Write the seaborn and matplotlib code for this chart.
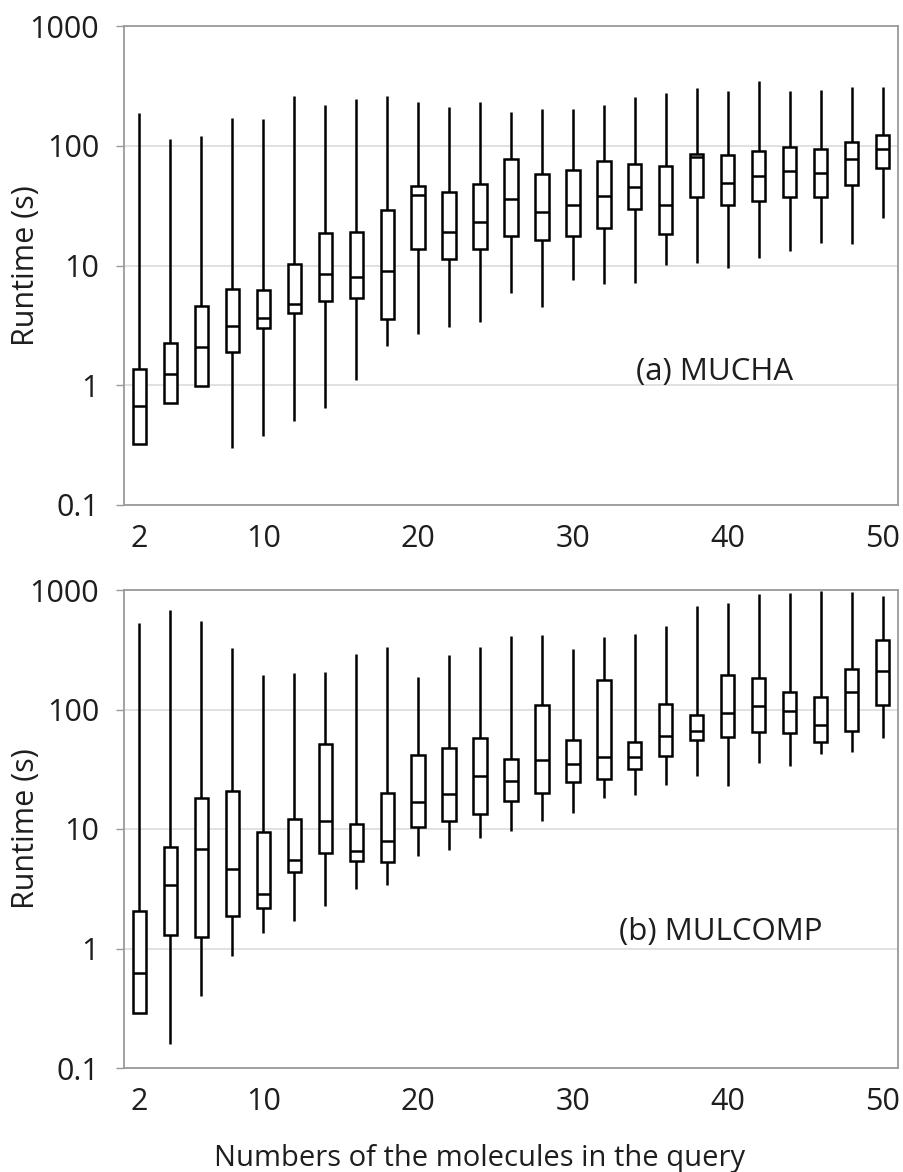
import numpy as np
import pandas as pd
import matplotlib
matplotlib.use("Agg")
import matplotlib.pyplot as plt
import seaborn as sns

# ---------------- data ----------------
n_molecules = [2, 4, 6, 8, 10, 12, 14, 16, 18, 20, 22, 24, 26,
               28, 30, 32, 34, 36, 38, 40, 42, 44, 46, 48, 50]

# (a) MUCHA
mucha_min = [0.325, 0.71, 0.99, 0.30, 0.38, 0.50, 0.64, 1.11, 2.14, 2.69, 3.09, 3.37, 5.89,
             4.54, 7.52, 7.0, 7.09, 10.1, 10.5, 9.6, 11.6, 13.2, 15.4, 15.2, 25.0]
mucha_q1 = [0.325, 0.71, 0.99, 1.91, 3.01, 4.03, 5.08, 5.36, 3.55, 13.7, 11.3, 13.7, 17.8,
            16.3, 17.8, 20.5, 29.7, 18.2, 37.5, 31.8, 34.4, 37.2, 37.0, 46.7, 65.6]
mucha_med = [0.67, 1.23, 2.09, 3.15, 3.67, 4.79, 8.43, 7.98, 8.94, 38.7, 18.9, 22.9, 36.1,
             28.2, 32.0, 37.8, 45.2, 32.2, 80.0, 49.2, 55.5, 62.1, 59.7, 77.8, 93.1]
mucha_q3 = [1.37, 2.26, 4.6, 6.4, 6.2, 10.2, 18.8, 19.1, 29.1, 46.4, 41.1, 47.7, 77.3,
            58.5, 62.5, 73.9, 70.0, 67.8, 85.5, 83.7, 91.2, 97.7, 93.8, 108, 123]
mucha_max = [187, 113.5, 120, 169, 167, 262, 221, 244, 262, 233, 209, 231, 193,
             202, 202, 217, 254, 277, 301, 288, 347, 284, 292, 312, 312]

# (b) MULCOMP
mulcomp_min = [0.286, 0.159, 0.40, 0.86, 1.34, 1.71, 2.27, 3.17, 3.42, 5.94, 6.66, 8.39, 9.66,
               11.6, 13.7, 18.1, 19.4, 23.5, 27.6, 23.1, 35.5, 33.5, 42.4, 44.1, 57.7]
mulcomp_q1 = [0.286, 1.29, 1.24, 1.86, 2.20, 4.36, 6.29, 5.36, 5.26, 10.3, 11.7, 13.3, 17.0,
              20.2, 24.5, 26.4, 31.8, 40.6, 55.2, 58.9, 65.2, 64.0, 53.4, 65.6, 110]
mulcomp_med = [0.618, 3.40, 6.79, 4.59, 2.84, 5.53, 11.6, 6.58, 7.92, 16.9, 19.7, 27.6, 25.2,
               37.6, 35.0, 39.8, 39.8, 60.0, 65.6, 93.3, 106, 96.4, 74.6, 141, 209]
mulcomp_q3 = [2.05, 7.01, 18.3, 20.6, 9.42, 12.2, 51.4, 11.0, 19.9, 41.4, 47.3, 57.7, 38.5,
              109, 55.2, 177, 53.4, 112, 89.8, 195, 182, 141, 127, 219, 380]
mulcomp_max = [526, 676, 550, 330, 194, 203, 205, 290, 334, 188, 288, 332, 412,
               421, 319, 405, 431, 503, 730, 783, 930, 937, 973, 961, 890]

y_ticks = [0.1, 1, 10, 100, 1000]
y_tick_labels = ["0.1", "1", "10", "100", "1000"]
x_ticks = [2, 10, 20, 30, 40, 50]
x_tick_labels = ["2", "10", "20", "30", "40", "50"]


def long_frame(mins, q1s, meds, q3s, maxs):
    rows = []
    for n, a, b, c, d, e in zip(n_molecules, mins, q1s, meds, q3s, maxs):
        for v in (a, b, c, d, e):
            rows.append({"n": n, "runtime": v})
    return pd.DataFrame(rows)


df_a = long_frame(mucha_min, mucha_q1, mucha_med, mucha_q3, mucha_max)
df_b = long_frame(mulcomp_min, mulcomp_q1, mulcomp_med, mulcomp_q3, mulcomp_max)

# ---------------- style ----------------
sns.set_theme(style="white")
plt.rcParams["font.family"] = ["Open Sans", "DejaVu Sans"]

W, H = 904, 1172
fig = plt.figure(figsize=(W / 100, H / 100), dpi=100)

def frac_axes(left, top, right, bottom):
    return fig.add_axes([left / W, 1 - bottom / H, (right - left) / W, (bottom - top) / H])

ax1 = frac_axes(124, 26, 898, 505)
ax2 = frac_axes(124, 590, 898, 1068)

spine_col = "#9a9a9a"
grid_col = "#dcdcdc"
text_col = "#1e1e1e"

for ax, df, label, lx, ly in ((ax1, df_a, "(a) MUCHA", 0.763, 0.278),
                              (ax2, df_b, "(b) MULCOMP", 0.771, 0.285)):
    sns.boxplot(data=df, x="n", y="runtime", native_scale=True, log_scale=(False, True),
                whis=(0, 100), width=0.43, color="white", linecolor="black",
                linewidth=1.8, showcaps=False, fliersize=0, ax=ax)
    ax.set_ylim(0.1, 1000)
    ax.set_xlim(1.0, 51.0)
    ax.set_yticks(y_ticks)
    ax.set_yticklabels(y_tick_labels)
    ax.minorticks_off()
    ax.set_xticks(x_ticks)
    ax.set_xticklabels(x_tick_labels)
    ax.yaxis.grid(True, color=grid_col, linewidth=1.2)
    ax.xaxis.grid(False)
    ax.set_axisbelow(True)
    for s in ax.spines.values():
        s.set_color(spine_col)
        s.set_linewidth(1.3)
    ax.tick_params(axis="y", which="major", length=6, width=1.0, color=spine_col,
                   pad=12, labelsize=22, labelcolor=text_col, left=True)
    ax.tick_params(axis="x", which="major", length=0, pad=14, labelsize=22,
                   labelcolor=text_col)
    ax.set_xlabel("")
    ax.set_ylabel("Runtime (s)", fontsize=22, color=text_col)
    ax.yaxis.set_label_coords(-0.127, 0.5)
    ax.yaxis.label.set_verticalalignment("center")
    ax.text(lx, ly, label, transform=ax.transAxes, ha="center", va="center",
            fontsize=22.5, color=text_col)

fig.text(480 / W, 1 - 1166 / H, "Numbers of the molecules in the query",
         ha="center", va="baseline", fontsize=21, color=text_col)

fig.savefig("out.png", dpi=100, facecolor="white")
